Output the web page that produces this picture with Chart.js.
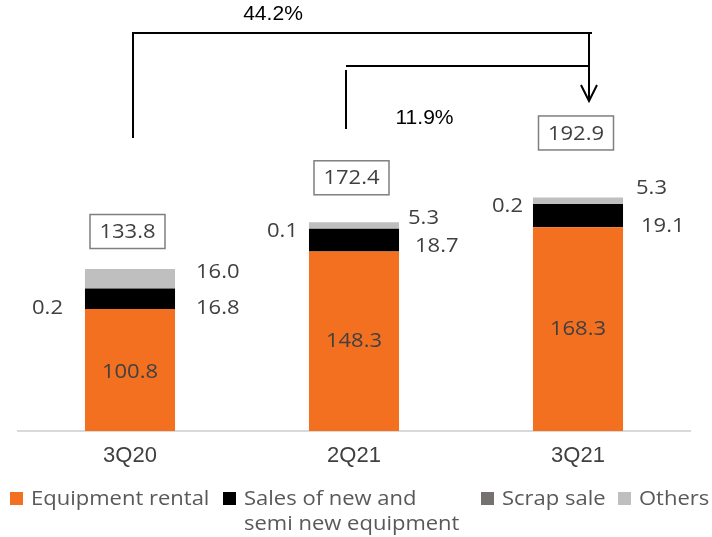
<!DOCTYPE html>
<html>
<head>
<meta charset="utf-8">
<script src="https://cdn.jsdelivr.net/npm/chart.js@4.4.0/dist/chart.umd.min.js"></script>
<style>
  body { margin: 0; background: #fff; }
  canvas { display: block; }
</style>
</head>
<body>
<canvas id="myChart" width="712" height="537"></canvas>
<script>
// data
const quarters = ["3Q20", "2Q21", "3Q21"];
const equipmentRental = [100.8, 148.3, 168.3];
const salesNewSemiNew = [16.8, 18.7, 19.1];
const scrapSale = [0.2, 0.1, 0.2];
const others = [16.0, 5.3, 5.3];
const totals = [133.8, 172.4, 192.9];
const growthVs3Q20 = "44.2%";
const growthVs2Q21 = "11.9%";

const seriesNames = ["Equipment rental", "Sales of new and\nsemi new equipment", "Scrap sale", "Others"];
const seriesColors = ["#F37021", "#000000", "#767171", "#BFBFBF"];

// where each value label sits, relative to its segment (hand placed, like the original slide)
// mode: center = inside the segment, right = right of bar, left = left of bar
const labelPlacement = [
  { mode: "center", off: [[0, 2], [0, 0], [0, 0]] },
  { mode: "rightBottom", off: [[21, -1], [16, -5], [18, -1]] },
  { mode: "leftTop", off: [[-22, 20], [-11, 3], [-10, 2]] },
  { mode: "rightTop", off: [[21, 3], [9, -4], [13, -9]] }
];
const totalBoxOffset = [[-2.5, -37.5], [-2.5, -44.5], [-2, -64.5]];

const VALUE_FONT = "20px 'Open Sans'";
const STRETCH = 1.1;

function stretchedText(ctx, text, x, y, align, font, color, sx) {
  ctx.save();
  ctx.font = font;
  ctx.fillStyle = color;
  ctx.textAlign = align;
  ctx.textBaseline = "middle";
  ctx.translate(x, y);
  ctx.scale(sx, 1);
  ctx.fillText(text, 0, 0);
  ctx.restore();
}

const labelsPlugin = {
  id: "valueLabels",
  afterDatasetsDraw(chart) {
    const ctx = chart.ctx;
    chart.data.datasets.forEach((ds, di) => {
      const meta = chart.getDatasetMeta(di);
      const place = labelPlacement[di];
      meta.data.forEach((bar, i) => {
        const p = bar.getProps(["x", "y", "base", "width"], true);
        const top = Math.min(p.y, p.base), bottom = Math.max(p.y, p.base);
        const o = place.off[i];
        const txt = ds.data[i].toFixed(1);
        if (place.mode === "center") {
          stretchedText(ctx, txt, p.x + o[0], (top + bottom) / 2 + o[1], "center", VALUE_FONT, "#404040", STRETCH);
        } else if (place.mode === "rightBottom") {
          stretchedText(ctx, txt, p.x + p.width / 2 + o[0], bottom + o[1], "left", VALUE_FONT, "#404040", STRETCH);
        } else if (place.mode === "rightTop") {
          stretchedText(ctx, txt, p.x + p.width / 2 + o[0], top + o[1], "left", VALUE_FONT, "#404040", STRETCH);
        } else {
          stretchedText(ctx, txt, p.x - p.width / 2 + o[0], top + o[1], "right", VALUE_FONT, "#404040", STRETCH);
        }
      });
    });

    // total boxes
    const xs = chart.scales.x, ys = chart.scales.y;
    totals.forEach((t, i) => {
      const cx = xs.getPixelForValue(i) + totalBoxOffset[i][0];
      const cy = ys.getPixelForValue(t) + totalBoxOffset[i][1];
      ctx.save();
      ctx.fillStyle = "#fff";
      ctx.strokeStyle = "#7F7F7F";
      ctx.lineWidth = 1.5;
      ctx.fillRect(cx - 37.5, cy - 17, 75, 34);
      ctx.strokeRect(cx - 37.5, cy - 17, 75, 34);
      ctx.restore();
      stretchedText(ctx, t.toFixed(1), cx, cy + 1, "center", VALUE_FONT, "#404040", STRETCH);
    });

    // growth brackets
    const x0 = xs.getPixelForValue(0) + 3;
    const x1 = xs.getPixelForValue(1) - 8;
    const x2 = xs.getPixelForValue(2) + 11;
    ctx.save();
    ctx.strokeStyle = "#000";
    ctx.lineWidth = 2;
    ctx.beginPath();
    ctx.moveTo(x0, 138); ctx.lineTo(x0, 33); ctx.lineTo(x2 + 3, 33);
    ctx.moveTo(x2, 33); ctx.lineTo(x2, 101);
    ctx.moveTo(x2 - 8, 85); ctx.lineTo(x2, 101); ctx.lineTo(x2 + 8, 85);
    ctx.moveTo(x1, 66); ctx.lineTo(x2 - 1, 66);
    ctx.moveTo(x1, 70); ctx.lineTo(x1, 129);
    ctx.stroke();
    ctx.restore();
    stretchedText(ctx, growthVs3Q20, 273, 15, "center", "19.5px 'Liberation Sans'", "#000", 1.08);
    stretchedText(ctx, growthVs2Q21, 424.5, 119, "center", "19.5px 'Liberation Sans'", "#000", 1.08);

    // legend
    const legendX = [10, 223, 481, 618];
    chart.data.datasets.forEach((ds, di) => {
      const lx = legendX[di];
      ctx.fillStyle = ds.backgroundColor;
      ctx.fillRect(lx, 492, 13, 13);
      const lines = seriesNames[di].split("\n");
      lines.forEach((ln, k) => {
        stretchedText(ctx, ln, lx + 21, 499 + k * 25, "left", "20px 'Open Sans'", "#595959", STRETCH);
      });
    });
  }
};

const datasets = [equipmentRental, salesNewSemiNew, scrapSale, others].map((vals, i) => ({
  label: seriesNames[i],
  data: vals,
  backgroundColor: seriesColors[i],
  borderWidth: 0,
  barPercentage: 0.402,
  categoryPercentage: 1
}));

const ctx = document.getElementById("myChart").getContext("2d");
new Chart(ctx, {
  type: "bar",
  data: { labels: quarters, datasets: datasets },
  options: {
    responsive: false,
    animation: false,
    layout: { padding: { left: 18, right: 22, top: 0, bottom: 0 } },
    plugins: { legend: { display: false }, tooltip: { enabled: false } },
    scales: {
      x: {
        stacked: true,
        grid: { display: false, drawTicks: false },
        border: { display: true, color: "#D9D9D9", width: 2 },
        ticks: { color: "#404040", font: { family: "Liberation Sans", size: 22 }, padding: 12 },
        afterFit: (scale) => { scale.height = 106; }
      },
      y: {
        stacked: true,
        display: false,
        min: 0,
        max: 356
      }
    }
  },
  plugins: [labelsPlugin]
});
</script>
</body>
</html>
